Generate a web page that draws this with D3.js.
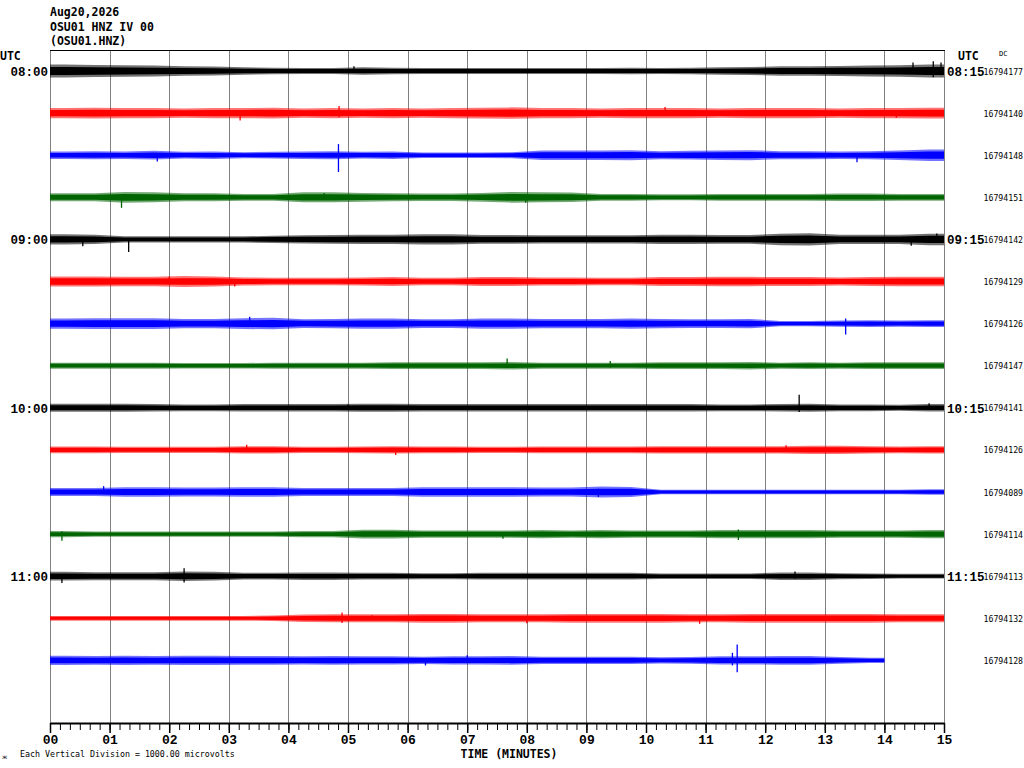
<!DOCTYPE html>
<html>
<head>
<meta charset="utf-8">
<script src="https://cdn.jsdelivr.net/npm/d3@7"></script>
<style>
html,body{margin:0;padding:0;background:#fff;}
svg{display:block;}
</style>
</head>
<body>
<svg id="chart" width="1024" height="768"></svg>
<script>
// ---------- DATA ----------
const headerLines = ["Aug20,2026", "OSU01 HNZ IV 00", "(OSU01.HNZ)"];
const leftTimes = ["08:00", "", "", "", "09:00", "", "", "", "10:00", "", "", "", "11:00", "", ""];
const rightTimes = ["08:15", "", "", "", "09:15", "", "", "", "10:15", "", "", "", "11:15", "", ""];
const dcValues = ["16794177","16794140","16794148","16794151","16794142","16794129","16794126","16794147",
                  "16794141","16794126","16794089","16794114","16794113","16794132","16794128"];
const traceColors = ["#000000", "#ff0000", "#0000ff", "#006400"];
const minuteTicks = ["00","01","02","03","04","05","06","07","08","09","10","11","12","13","14","15"];
const sampleStepMin = 0.5; // envelope sampled every 30 s

// typical (core) half-amplitude of the noise band, microvolts, per 30 s, one array per trace line
const env0  = [95,90,85,80,70,65,55,50,45,45,55,50,45,45,45,45,45,45,45,50,45,50,55,60,70,70,75,80,85,95];
const env1  = [75,80,75,75,70,75,75,80,70,75,70,75,70,75,80,85,75,75,70,75,75,75,70,75,75,75,70,75,75,80];
const env2  = [55,60,55,65,50,55,45,50,55,60,50,55,40,40,40,45,70,70,70,75,60,65,70,75,60,60,55,60,70,85];
const env3  = [60,60,80,75,60,60,50,50,75,75,65,60,55,55,65,80,75,70,50,50,45,45,50,50,50,50,55,55,50,50];
const env4  = [75,70,45,45,45,45,45,55,60,65,70,70,75,75,65,65,60,60,60,60,70,70,65,65,85,90,70,70,70,85];
const env5  = [75,75,70,70,80,75,60,55,55,55,60,65,55,55,65,65,60,60,55,55,65,65,70,70,65,65,60,65,70,70];
const env6  = [75,80,80,80,70,70,80,85,65,70,75,75,65,65,75,75,70,70,70,75,70,65,65,70,40,40,45,50,45,50];
const env7  = [45,45,45,45,40,40,40,45,45,45,45,50,50,50,50,55,45,45,45,45,50,50,50,55,45,50,45,50,50,50];
const env8  = [60,60,60,55,50,50,55,55,55,55,60,60,55,55,55,55,55,55,55,55,55,55,50,50,55,60,50,50,45,55];
const env9  = [50,50,45,45,45,45,55,55,45,45,50,55,50,50,45,45,50,50,50,50,55,55,55,55,55,60,60,55,50,55];
const env10 = [60,60,70,70,65,65,70,70,60,60,60,60,70,70,70,70,65,65,80,75,35,35,35,35,35,35,35,35,35,40];
const env11 = [45,40,40,40,40,40,40,40,45,45,65,65,55,55,55,55,60,55,60,55,55,55,60,60,60,60,55,55,55,60];
const env12 = [65,60,60,60,70,65,50,50,55,55,50,50,45,45,50,50,50,50,50,50,40,40,40,40,55,55,45,40,35,35];
const env13 = [35,35,35,35,35,35,35,40,55,60,60,60,65,65,60,60,60,65,65,65,65,60,60,65,65,65,65,65,60,60];
const env14 = [70,65,70,65,70,70,65,65,60,65,60,60,55,60,60,65,55,55,55,55,45,50,60,60,65,65,50,40];

// isolated spikes: [minute, up (µV), down (µV)]
const spk0  = [[5.1,110,30],[14.48,200,60],[14.82,230,150],[14.95,200,100]];
const spk1  = [[3.19,20,175],[4.85,170,100],[10.32,145,40],[14.2,40,110]];
const spk2  = [[1.8,40,150],[4.84,265,400],[13.54,30,170]];
const spk3  = [[1.2,60,250],[4.6,100,40],[7.98,40,130]];
const spk4  = [[0.55,30,160],[1.32,20,300],[14.45,40,150],[14.88,140,60]];
const spk5  = [[2.0,110,40],[3.1,30,120]];
const spk6  = [[3.35,165,60],[13.35,120,260]];
const spk7  = [[7.67,170,40],[9.4,110,40]];
const spk8  = [[5.0,80,40],[12.57,310,100],[14.75,110,40]];
const spk9  = [[3.3,120,40],[5.8,30,120],[12.35,110,30]];
const spk10 = [[0.9,140,40],[9.2,80,120]];
const spk11 = [[0.2,70,160],[7.6,30,110],[11.55,110,140]];
const spk12 = [[0.2,30,160],[2.25,190,150],[12.5,110,60]];
const spk13 = [[4.9,140,110],[5.4,70,40],[8.0,40,120],[10.9,40,130]];
const spk14 = [[6.3,30,120],[7.0,120,60],[11.45,180,120],[11.53,380,280]];

const envelopes = [env0,env1,env2,env3,env4,env5,env6,env7,env8,env9,env10,env11,env12,env13,env14];
const spikes = [spk0,spk1,spk2,spk3,spk4,spk5,spk6,spk7,spk8,spk9,spk10,spk11,spk12,spk13,spk14];

// ---------- DRAW ----------
const svg = d3.select("#chart");
const plotLeft = 50, plotRight = 944, plotTop = 50, axisY = 723;

const x = d3.scaleLinear().domain([0, 15]).range([plotLeft, plotRight]);
const row = d3.scaleLinear().domain([0, 14]).range([71, 660.4]);
const divPx = (row(1) - row(0));
const amp = d3.scaleLinear().domain([0, 1000]).range([0, divPx]); // 1000 µV per division

const monoBold = "'DejaVu Sans Mono', monospace";
const serifBold = "'Liberation Mono', 'Courier New', monospace";

// grid lines
svg.append("g").selectAll("line").data(d3.range(0, 16)).join("line")
  .attr("x1", d => Math.round(x(d)) + 0.5).attr("x2", d => Math.round(x(d)) + 0.5)
  .attr("y1", plotTop).attr("y2", axisY)
  .attr("stroke", "#808080").attr("stroke-width", 1);

// top border
svg.append("line").attr("x1", plotLeft).attr("x2", plotRight + 1).attr("y1", plotTop + 0.5).attr("y2", plotTop + 0.5)
  .attr("stroke", "#000").attr("stroke-width", 1);

// traces: solid core band plus a lighter outer band standing for the jagged peaks
const bandArea = k => d3.area()
  .x(d => x(d.t))
  .y0(d => d.base + k * amp(d.v))
  .y1(d => d.base - k * amp(d.v))
  .curve(d3.curveLinear);
const outerArea = bandArea(1.6);
const coreArea = bandArea(1.0);

const traces = svg.append("g");
envelopes.forEach((vals, i) => {
  const base = row(i);
  const col = traceColors[i % 4];
  const n = vals.length;
  const pts = vals.map((v, k) => ({t: Math.min(k * sampleStepMin + sampleStepMin / 2, n * sampleStepMin), v, base}));
  pts.unshift({t: 0, v: vals[0], base});
  pts.push({t: n * sampleStepMin, v: vals[n - 1], base});
  traces.append("path").datum(pts).attr("d", outerArea).attr("fill", col).attr("fill-opacity", 0.55);
  traces.append("path").datum(pts).attr("d", coreArea).attr("fill", col);
  traces.append("g").selectAll("line").data(spikes[i]).join("line")
    .attr("x1", d => x(d[0])).attr("x2", d => x(d[0]))
    .attr("y1", d => base - amp(d[1])).attr("y2", d => base + amp(d[2]))
    .attr("stroke", col).attr("stroke-width", 1.3);
});

// bottom axis: minor ticks every 10 s, major every minute
const minorAxis = d3.axisBottom(x).tickValues(d3.range(0, 91).map(k => k / 6))
  .tickSize(7).tickSizeOuter(0).tickFormat("");
const gMinor = svg.append("g").attr("transform", `translate(0,${axisY})`).call(minorAxis);
gMinor.select(".domain").attr("stroke", "#000").attr("stroke-width", 2);
gMinor.selectAll(".tick line").attr("stroke", "#000");

const majorAxis = d3.axisBottom(x).tickValues(d3.range(0, 16)).tickSize(10).tickSizeOuter(0)
  .tickFormat(d => minuteTicks[d]);
const gMajor = svg.append("g").attr("transform", `translate(0,${axisY})`).call(majorAxis);
gMajor.select(".domain").remove();
gMajor.selectAll(".tick line").attr("stroke", "#000").attr("stroke-width", 1.5);
gMajor.selectAll(".tick text").attr("y", 12).attr("dy", "0.71em")
  .attr("font-family", serifBold).attr("font-weight", "bold").attr("font-size", 13).attr("fill", "#000");

// axis title
svg.append("text").attr("x", 509).attr("y", 758).attr("text-anchor", "middle")
  .attr("font-family", monoBold).attr("font-weight", "bold").attr("font-size", 11.5)
  .text("TIME (MINUTES)");

svg.append("text").attr("x", 20).attr("y", 757)
  .attr("font-family", "'DejaVu Sans Mono', monospace").attr("font-size", 8.3)
  .text("Each Vertical Division = 1000.00 microvolts");
svg.append("text").attr("x", 2).attr("y", 759)
  .attr("font-family", "'DejaVu Sans', sans-serif").attr("font-size", 6)
  .text("ж");

// header
svg.append("g").selectAll("text").data(headerLines).join("text")
  .attr("x", 50).attr("y", (d, i) => 16 + i * 14.5)
  .attr("font-family", monoBold).attr("font-weight", "bold").attr("font-size", 11.5)
  .text(d => d);

// UTC labels
svg.append("text").attr("x", 0).attr("y", 60)
  .attr("font-family", monoBold).attr("font-weight", "bold").attr("font-size", 11.5).text("UTC");
svg.append("text").attr("x", 958).attr("y", 60)
  .attr("font-family", monoBold).attr("font-weight", "bold").attr("font-size", 11.5).text("UTC");
svg.append("text").attr("x", 999).attr("y", 56).attr("fill", "#000")
  .attr("font-family", "'DejaVu Sans Mono', monospace").attr("font-size", 7).text("DC");

// time labels
svg.append("g").selectAll("text").data(leftTimes).join("text")
  .attr("x", 48).attr("y", (d, i) => row(i) + 5).attr("text-anchor", "end")
  .attr("font-family", serifBold).attr("font-weight", "bold").attr("font-size", 12.5)
  .text(d => d);
svg.append("g").selectAll("text").data(rightTimes).join("text")
  .attr("x", 947).attr("y", (d, i) => row(i) + 5)
  .attr("font-family", serifBold).attr("font-weight", "bold").attr("font-size", 12.5)
  .text(d => d);

// DC values
svg.append("g").selectAll("text").data(dcValues).join("text")
  .attr("x", 1023).attr("y", (d, i) => row(i) + 3.5).attr("text-anchor", "end")
  .attr("font-family", "'DejaVu Sans Mono', monospace").attr("font-size", 8.2)
  .text(d => d);
</script>
</body>
</html>
